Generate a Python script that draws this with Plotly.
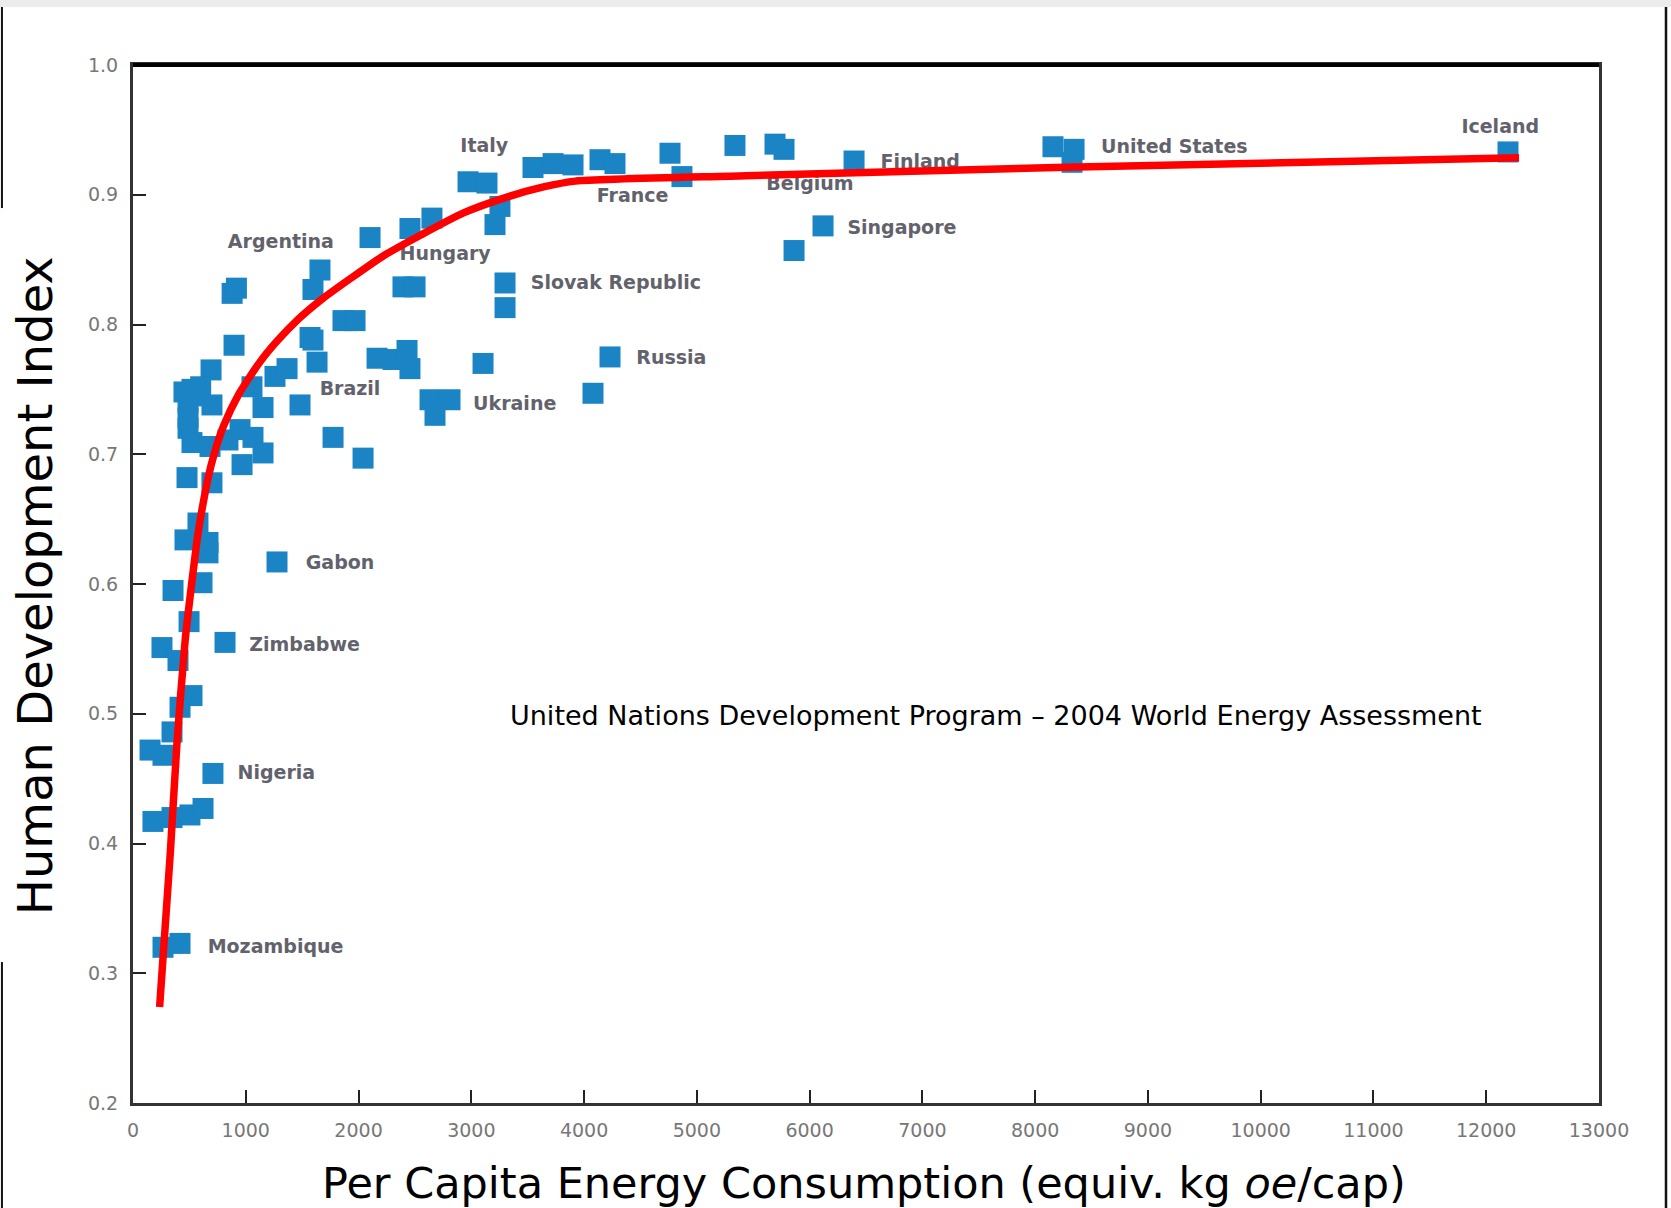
import plotly.graph_objects as go

# ---- data: per-capita energy use (kgoe/cap) vs HDI ----
energy = [
    896, 692, 523, 488, 700, 488, 488, 523, 683, 479, 700, 949, 1064, 1153, 967, 842,
    1055, 1153, 1259, 1366, 1481, 1596, 1632, 1774, 2040, 2164, 2306, 2430, 2456,
    2634, 2811, 2678, 3104, 4230, 4079,
    576, 461, 665, 665, 1277, 355, 612, 497, 816, 257, 399, 523, 417,
    346, 151, 266, 709, 177, 346, 505, 621, 266, 417,
    2971, 3139, 3254, 3210, 3547, 3725, 3902, 4141, 4274, 4762, 4868,
    2102, 2456, 2651, 1658, 1596, 2394, 2501, 3299, 3299, 1862, 1969, 1570,
    6119, 5862, 6394, 5693, 5773, 5338, 8158, 8345, 8327, 12193,
    879, 917, 560, 600, 452,
]
hdi = [
    0.784, 0.765, 0.750, 0.740, 0.738, 0.728, 0.720, 0.709, 0.706, 0.682, 0.678, 0.719, 0.713, 0.701, 0.692, 0.711,
    0.752, 0.736, 0.760, 0.766, 0.738, 0.788, 0.771, 0.713, 0.697, 0.774, 0.773, 0.780, 0.766,
    0.742, 0.742, 0.730, 0.770, 0.775, 0.747,
    0.647, 0.634, 0.632, 0.624, 0.617, 0.595, 0.601, 0.571, 0.555, 0.551, 0.541, 0.514, 0.505,
    0.486, 0.472, 0.468, 0.454, 0.417, 0.420, 0.422, 0.427, 0.320, 0.323,
    0.910, 0.909, 0.891, 0.877, 0.921, 0.924, 0.923, 0.927, 0.924, 0.932, 0.914,
    0.867, 0.874, 0.882, 0.842, 0.827, 0.829, 0.829, 0.832, 0.813, 0.803, 0.803, 0.790,
    0.876, 0.857, 0.926, 0.939, 0.935, 0.938, 0.937, 0.935, 0.925, 0.933,
    0.824, 0.828, 0.745, 0.752, 0.748,
]

# trend curve drawn over the points
curve_energy = [236, 331, 388, 463, 520, 577, 662, 719, 804, 936, 1125, 1276, 1465,
                1683, 1938, 2222, 2553, 2931, 3309, 3640, 3924, 5436, 8273, 12291]
curve_hdi = [0.274, 0.393, 0.475, 0.557, 0.600, 0.639, 0.680, 0.700, 0.722, 0.746, 0.771,
             0.787, 0.804, 0.820, 0.836, 0.853, 0.869, 0.886, 0.898, 0.906, 0.9105,
             0.9146, 0.9212, 0.9285]

# country labels
label_names = ["Italy", "France", "Belgium", "Finland", "United States", "Iceland",
               "Singapore", "Argentina", "Hungary", "Slovak Republic", "Russia",
               "Brazil", "Ukraine", "Gabon", "Zimbabwe", "Nigeria", "Mozambique"]
label_x = [2903, 4113, 5616, 6628, 8585, 11780, 6335, 841, 2364, 3527, 4463,
           1655, 3016, 1532, 1031, 927, 662]
label_y = [0.9368, 0.898, 0.9072, 0.9244, 0.936, 0.9515, 0.8735, 0.8628, 0.853,
           0.8308, 0.7733, 0.7495, 0.738, 0.6156, 0.5524, 0.453, 0.319]

x_ticks = list(range(0, 13001, 1000))
y_ticks = [0.2, 0.3, 0.4, 0.5, 0.6, 0.7, 0.8, 0.9, 1.0]

fig = go.Figure()
fig.add_trace(go.Scatter(
    x=energy, y=hdi, mode="markers",
    marker=dict(symbol="square", size=21, color="#1b84c4", line=dict(width=0)),
    hoverinfo="x+y", showlegend=False))
fig.add_trace(go.Scatter(
    x=label_x, y=label_y, mode="text", text=label_names, textposition="middle right",
    textfont=dict(family="DejaVu Sans", size=19, color="#62626c", weight="bold"),
    hoverinfo="skip", showlegend=False))
fig.add_trace(go.Scatter(
    x=curve_energy, y=curve_hdi, mode="lines",
    line=dict(color="#ff0000", width=7.5, shape="spline", smoothing=0.6),
    hoverinfo="skip", showlegend=False))

tickfont = dict(family="DejaVu Sans", size=19, color="#777")
fig.update_layout(
    width=1671, height=1208,
    margin=dict(l=133, r=72, t=65, b=105),
    paper_bgcolor="white", plot_bgcolor="white",
    font=dict(family="DejaVu Sans"),
    xaxis=dict(range=[0, 13000], tickvals=x_ticks, ticktext=[str(v) for v in x_ticks],
               ticks="inside", ticklen=13, tickwidth=2, tickcolor="#222",
               showgrid=False, zeroline=False, showline=True, mirror=True,
               linecolor="#333", linewidth=3, tickfont=tickfont,
               ticklabelstandoff=8),
    yaxis=dict(range=[0.2, 1.0], tickvals=y_ticks, ticktext=[f"{v:.1f}" for v in y_ticks],
               ticks="inside", ticklen=13, tickwidth=2, tickcolor="#222",
               showgrid=False, zeroline=False, showline=True, mirror=True,
               linecolor="#333", linewidth=3, tickfont=tickfont,
               ticklabelstandoff=8),
    shapes=[
        # top gray band of the screenshot
        dict(type="rect", xref="paper", yref="paper", x0=-0.2, x1=1.2, y0=1.0559, y1=1.08,
             fillcolor="#ececec", line=dict(width=0), layer="below"),
        # outer frame lines
        dict(type="line", xref="paper", yref="paper", x0=-0.0894, x1=-0.0894, y0=1.0559, y1=0.8622,
             line=dict(color="#111", width=2)),
        dict(type="line", xref="paper", yref="paper", x0=-0.0894, x1=-0.0894, y0=0.1358, y1=-0.11,
             line=dict(color="#111", width=2)),
        dict(type="line", xref="paper", yref="paper", x0=1.0457, x1=1.0457, y0=1.0559, y1=-0.11,
             line=dict(color="#111", width=2.5)),
        # heavier top edge of the plot frame
        dict(type="line", xref="paper", yref="paper", x0=0, x1=1, y0=1, y1=1,
             line=dict(color="#000", width=4)),
    ],
    annotations=[
        dict(text="Human Development Index", xref="paper", yref="paper", x=-0.0668, y=0.498,
             textangle=-90, showarrow=False, xanchor="center", yanchor="middle",
             font=dict(family="DejaVu Sans", size=48, color="#000")),
        dict(text="Per Capita Energy Consumption (equiv. kg <i>oe</i>/cap)", xref="paper", yref="paper",
             x=0.4986, y=-0.077, showarrow=False, xanchor="center", yanchor="middle",
             font=dict(family="DejaVu Sans", size=43, color="#000")),
        dict(text="United Nations Development Program – 2004 World Energy Assessment",
             xref="paper", yref="paper", x=0.5887, y=0.373, showarrow=False,
             xanchor="center", yanchor="middle",
             font=dict(family="DejaVu Sans", size=27, color="#000")),
    ],
)

fig.write_html(
    "out.html",
    config={"displayModeBar": False},
    post_script="document.body.style.margin='0px';document.body.style.overflow='hidden';",
)
